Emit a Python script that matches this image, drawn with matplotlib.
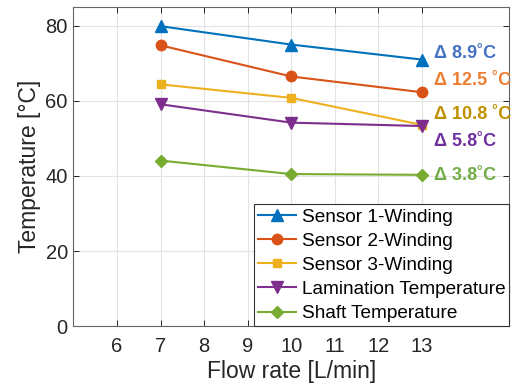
import matplotlib.pyplot as plt

plt.rcParams['font.family'] = ['Liberation Sans', 'DejaVu Sans']

# data
flow = [7, 10, 13]
sensor1 = [79.9, 75.0, 71.0]
sensor2 = [74.8, 66.5, 62.3]
sensor3 = [64.4, 60.8, 53.6]
lamination = [59.1, 54.2, 53.3]
shaft = [44.1, 40.5, 40.3]
series_names = ['Sensor 1-Winding', 'Sensor 2-Winding', 'Sensor 3-Winding',
                'Lamination Temperature', 'Shaft Temperature']
delta_labels = ['Δ 8.9˚C', 'Δ 12.5 ˚C', 'Δ 10.8 ˚C', 'Δ 5.8˚C', 'Δ 3.8˚C']
xticks = [6, 7, 8, 9, 10, 11, 12, 13]
yticks = [0, 20, 40, 60, 80]

series = [sensor1, sensor2, sensor3, lamination, shaft]
line_colors = ['#0072BD', '#D95319', '#EDB120', '#7E2F8E', '#77AC30']
text_colors = ['#4472C4', '#ED7D31', '#BF9000', '#7030A0', '#70AD47']
markers = ['^', 'o', 's', 'v', 'D']
msizes = [8, 7.5, 6, 8, 6.5]
# vertical offsets of the delta labels from the last point
label_offsets = [1.7, 3.0, 2.9, -4.0, -0.3]

fig = plt.figure(figsize=(5.11, 3.91), dpi=100)
ax = fig.add_axes([0.1435, 0.166, 0.853, 0.816])

for ys, name, c, m, ms in zip(series, series_names, line_colors, markers, msizes):
    ax.plot(flow, ys, color=c, marker=m, markersize=ms, linewidth=1.5, label=name)

for ys, lab, c, off in zip(series, delta_labels, text_colors, label_offsets):
    ax.text(13.27, ys[-1] + off, lab, color=c, fontsize=13, fontweight='bold',
            ha='left', va='center')

ax.set_xlim(5, 15)
ax.set_ylim(0, 85)
ax.set_xticks(xticks)
ax.set_yticks(yticks)
ax.grid(True, color='#e3e3e3', linewidth=0.8)
ax.set_axisbelow(True)
ax.tick_params(direction='in', top=True, right=True, length=4, width=0.7,
               labelsize=14.5, colors='#262626', labelcolor='#262626')
ax.tick_params(axis='x', pad=8)
ax.tick_params(axis='y', pad=4)
for s in ax.spines.values():
    s.set_color('#666666')
    s.set_linewidth(0.8)

ax.set_xlabel('Flow rate [L/min]', fontsize=16.5, color='#262626', labelpad=3)
ax.set_ylabel('Temperature [°C]', fontsize=16.5, color='#262626', labelpad=3)

leg = ax.legend(loc='lower right', fontsize=13.7, frameon=True, fancybox=False,
                edgecolor='#333333', borderaxespad=0, borderpad=0.2,
                handlelength=2.0, handletextpad=0.3, labelspacing=0.36)
leg.get_frame().set_linewidth(0.8)
leg.get_frame().set_alpha(1)

fig.savefig('out.png', dpi=100)
